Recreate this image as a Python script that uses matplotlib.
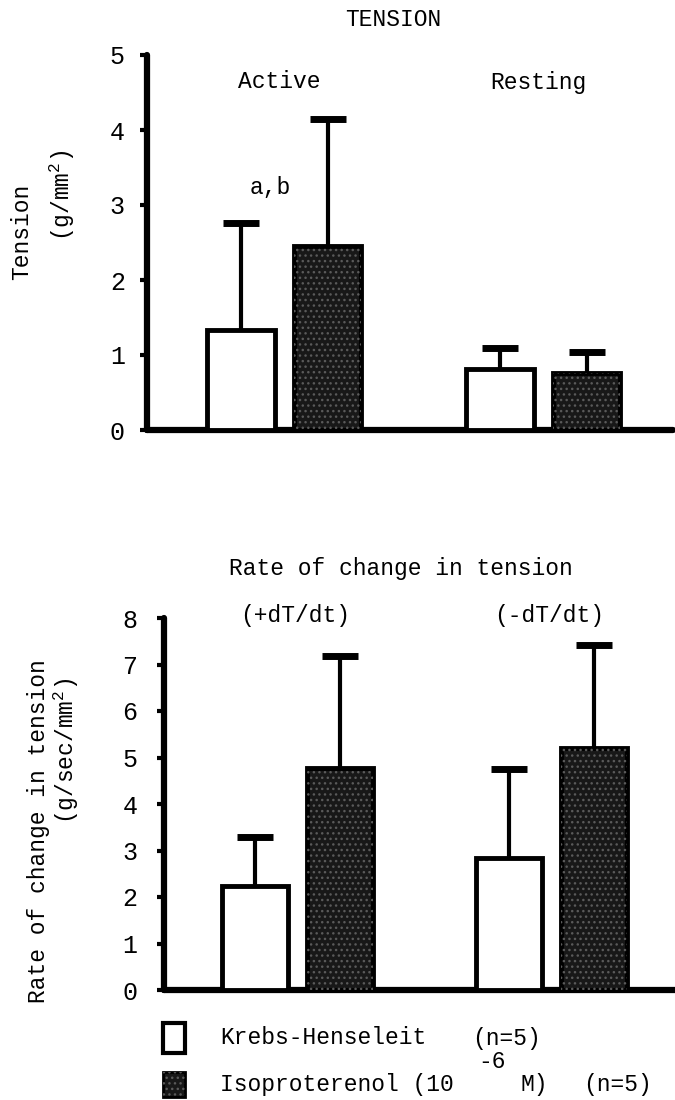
import numpy as np
import matplotlib
matplotlib.use("Agg")
import matplotlib.pyplot as plt
from matplotlib.patches import Rectangle

plt.rcParams["font.family"] = ["Liberation Mono", "DejaVu Sans Mono"]
plt.rcParams["mathtext.default"] = "regular"

# top panel: tension (g/mm^2), mean and SD
tension_groups = ["Active", "Resting"]
kh_tension = [1.33, 0.82]
kh_tension_sd = [1.43, 0.27]
iso_tension = [2.45, 0.76]
iso_tension_sd = [1.70, 0.28]
tension_ticks = [0, 1, 2, 3, 4, 5]

# bottom panel: rate of change in tension (g/sec/mm^2), mean and SD
rate_groups = ["(+dT/dt)", "(-dT/dt)"]
kh_rate = [2.24, 2.84]
kh_rate_sd = [1.05, 1.91]
iso_rate = [4.77, 5.20]
iso_rate_sd = [2.41, 2.22]
rate_ticks = [0, 1, 2, 3, 4, 5, 6, 7, 8]

DARK = "#181818"
SPECK = "#5a5a5a"
FS = 16.5
W, H = 675, 1100

fig = plt.figure(figsize=(W / 100, H / 100), dpi=100)


def fx(px):
    return px / W


def fy(py):
    return 1 - py / H


def panel(rect, groups, kh, kh_sd, iso, iso_sd, ticks, xlim, pad):
    ax = fig.add_axes(rect)
    x = np.arange(len(groups))
    off, w = 0.167, 0.26
    ax.bar(x - off, kh, w, color="white", edgecolor="black", lw=3.5, zorder=3)
    ax.bar(x + off, iso, w, color=DARK, edgecolor="black", lw=3.5, zorder=3)
    ax.bar(x + off, iso, w, color="none", edgecolor=SPECK, hatch="...", lw=0, zorder=3.1)
    for xs, m, sd in ((x - off, kh, kh_sd), (x + off, iso, iso_sd)):
        _, caps, _ = ax.errorbar(xs, m, yerr=[np.zeros(len(m)), sd], fmt="none",
                                 ecolor="black", elinewidth=3, capsize=13,
                                 capthick=5, zorder=2)
        caps[0].set_visible(False)
    ax.set_xlim(*xlim)
    ax.set_ylim(0, ticks[-1])
    ax.set_yticks(ticks)
    ax.set_xticks([])
    for s in ("top", "right"):
        ax.spines[s].set_visible(False)
    for s in ("left", "bottom"):
        ax.spines[s].set_linewidth(4.5)
        ax.spines[s].set_capstyle("round")
    ax.tick_params(axis="y", length=5, width=3, pad=pad, labelsize=18)
    return ax


ax1 = panel([fx(147), fy(430), 526 / W, 375 / H], tension_groups,
            kh_tension, kh_tension_sd, iso_tension, iso_tension_sd,
            tension_ticks, (-0.53, 1.50), 11)
for i, g in enumerate(tension_groups):
    ax1.text(i - 0.02, 4.64, g, ha="center", va="center", fontsize=FS)

ax2 = panel([fx(164), fy(990), 511 / W, 372 / H], rate_groups,
            kh_rate, kh_rate_sd, iso_rate, iso_rate_sd,
            rate_ticks, (-0.524, 1.484), 14)
for i, g in enumerate(rate_groups):
    ax2.text(i - 0.01, 8.06, g, ha="center", va="center", fontsize=FS)

# titles and axis labels
fig.text(fx(393), fy(20), "TENSION", ha="center", va="center", fontsize=FS)
fig.text(fx(270), fy(187), "a,b", ha="center", va="center", fontsize=FS)
fig.text(fx(22), fy(232), "Tension", rotation=90, ha="center", va="center", fontsize=FS)
fig.text(fx(62), fy(195), "(g/mm$^2$)", rotation=90, ha="center", va="center", fontsize=FS)

fig.text(fx(401), fy(568), "Rate of change in tension", ha="center", va="center", fontsize=FS)
fig.text(fx(39), fy(831), "Rate of change in tension", rotation=90,
         ha="center", va="center", fontsize=FS)
fig.text(fx(66), fy(751), "(g/sec/mm$^2$)", rotation=90, ha="center", va="center", fontsize=FS)

# legend
fig.add_artist(Rectangle((fx(163), fy(1053)), 22 / W, 30 / H, transform=fig.transFigure,
                         facecolor="white", edgecolor="black", lw=3))
fig.add_artist(Rectangle((fx(163), fy(1097)), 22 / W, 25 / H, transform=fig.transFigure,
                         facecolor=DARK, edgecolor="black", lw=2))
fig.add_artist(Rectangle((fx(163), fy(1097)), 22 / W, 25 / H, transform=fig.transFigure,
                         facecolor="none", edgecolor=SPECK, hatch="...", lw=0))
fig.text(fx(220), fy(1038), "Krebs-Henseleit", ha="left", va="center", fontsize=FS)
fig.text(fx(472), fy(1038), "(n=5)", ha="left", va="center", fontsize=FS)
fig.text(fx(220), fy(1085), "Isoproterenol (10", ha="left", va="center", fontsize=FS)
fig.text(fx(478), fy(1062), "-6", ha="left", va="center", fontsize=FS)
fig.text(fx(520), fy(1085), "M)", ha="left", va="center", fontsize=FS)
fig.text(fx(583), fy(1085), "(n=5)", ha="left", va="center", fontsize=FS)

fig.savefig("out.png", dpi=100, facecolor="white")
